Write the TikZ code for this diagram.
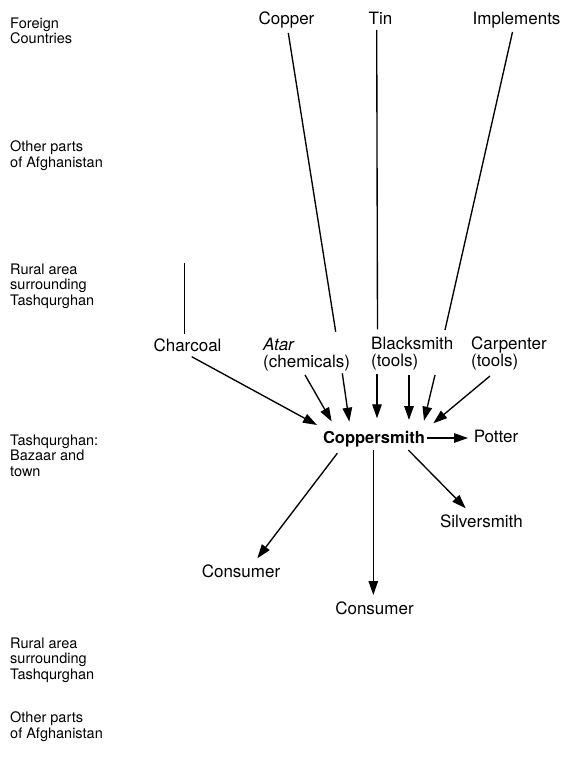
\documentclass[tikz,border=0pt]{standalone}
\usepackage{fontspec}
\setmainfont{TeX Gyre Heros}
\usetikzlibrary{arrows.meta}

\begin{document}
\begin{tikzpicture}[
  x=1pt, y=-1pt,
  item/.style={inner sep=0pt, text height=12.2pt, text depth=3.6pt,
    font=\fontsize{17}{17}\selectfont},
  pair/.style={inner sep=0pt, anchor=north west, align=left,
    font=\fontsize{17}{17}\selectfont},
  hub/.style={inner sep=0pt, text height=12.2pt, text depth=3.6pt,
    font=\fontsize{16.5}{17}\selectfont\bfseries},
  region/.style={inner sep=0pt, anchor=north west, align=left,
    font=\fontsize{14.5}{15.5}\selectfont},
  link/.style={line width=1.35pt},
  flow/.style={line width=1.35pt, -{Triangle[length=14pt,width=9.5pt]}}
]
\useasboundingbox (0,0) rectangle (568,757);

% region captions down the left margin
\node[region] (rForeign) at (10,17.6)  {Foreign\\Countries};
\node[region] (rOtherA)  at (10,140.6) {Other parts\\of Afghanistan};
\node[region] (rRuralA)  at (10,263.6) {Rural area\\surrounding\\Tashqurghan};
\node[region] (rTown)    at (10,434.6) {Tashqurghan:\\Bazaar and\\town};
\node[region] (rRuralB)  at (10,637.6) {Rural area\\surrounding\\Tashqurghan};
\node[region] (rOtherB)  at (10,711.6) {Other parts\\of Afghanistan};

% imported materials
\node[item] (copper) at (286.5,20.7) {Copper};
\node[item] (tin)    at (380.5,20.2) {Tin};
\node[item] (impl)   at (516.5,20.7) {Implements};

% local suppliers
\node[item] (charcoal) at (187.5,346.7) {Charcoal};
\node[pair] (atar)  at (263,337.8) {\textit{Atar}\\(chemicals)};
\node[pair] (black) at (371,336.5) {Blacksmith\\(tools)};
\node[pair] (carp)  at (471,336.5) {Carpenter\\(tools)};

% the craft and its outlets
\node[hub]  (cs)     at (374,438.7)   {Coppersmith};
\node[item] (potter) at (496,437.7)   {Potter};
\node[item] (silver) at (481.4,522.7) {Silversmith};
\node[item] (consL)  at (241,572.7)   {Consumer};
\node[item] (consC)  at (374.5,609.7) {Consumer};

\coordinate (charsrc) at (184.3,263);

% supply lines from further away
\draw[link] ([shift={(1.8,12.3)}]copper.center) -- ([shift={(72.7,-6.1)}]atar.north west);
\draw[link] ([shift={(-3.8,9.8)}]tin.center)    -- ([shift={(6.5,-7.2)}]black.north west);
\draw[link] ([shift={(-4,11.3)}]impl.center)    -- ([shift={(74,-6.5)}]black.north west);
\draw[link] (charsrc) -- ([shift={(-3.2,-12.7)}]charcoal.center);

% inputs to the coppersmith
\draw[flow] ([shift={(4.2,10)}]charcoal.center) -- ([shift={(-57,-13.7)}]cs.center);
\draw[flow] ([shift={(42,37.2)}]atar.north west)  -- ([shift={(-42.3,-17.2)}]cs.center);
\draw[flow] ([shift={(79.3,35.5)}]atar.north west) -- ([shift={(-24.7,-17)}]cs.center);
\draw[flow] ([shift={(6,37.5)}]black.north west)  -- ([shift={(3,-20.4)}]cs.center);
\draw[flow] ([shift={(38,38.5)}]black.north west) -- ([shift={(35,-18.7)}]cs.center);
\draw[flow] ([shift={(64,38.5)}]black.north west) -- ([shift={(50,-18)}]cs.center);
\draw[flow] ([shift={(19,39.5)}]carp.north west)  -- ([shift={(59.3,-15.4)}]cs.center);

% outputs of the coppersmith
\draw[flow] ([shift={(53.3,-0.7)}]cs.center)  -- ([shift={(-28,0.3)}]potter.center);
\draw[flow] ([shift={(34.3,11.3)}]cs.center)  -- ([shift={(-15.7,-14.4)}]silver.center);
\draw[flow] ([shift={(-36.7,14.6)}]cs.center) -- ([shift={(16.3,-14.4)}]consL.center);
\draw[flow] ([shift={(-0.7,11.3)}]cs.center)  -- ([shift={(-1.2,-14.7)}]consC.center);
\end{tikzpicture}
\end{document}
